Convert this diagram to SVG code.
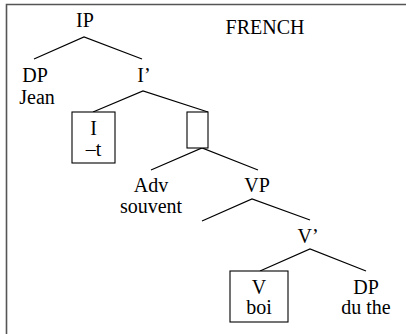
<svg xmlns="http://www.w3.org/2000/svg" width="406" height="334" viewBox="0 0 406 334">
<rect x="0" y="0" width="406" height="334" fill="#fff"/>
<path d="M6.5,340 V4.5 H412" fill="none" stroke="#555" stroke-width="1.6"/>
<g id="connectors" stroke="#000" stroke-width="1.2" fill="none">
<path d="M34,59 L84,37 L142,59"/>
<path d="M93,112 L143,91 L208,112"/>
<path d="M151,170 L202,148 L258,170"/>
<path d="M202,221 L252,199 L310,220"/>
<path d="M260,271 L310,249 L366,271"/>
</g>
<g font-family="'Liberation Serif', 'Times New Roman', serif" font-size="20" text-anchor="middle" fill="#000">
<text x="265" y="34">FRENCH</text>
<g id="IP"><text x="85" y="27">IP</text></g>
<g id="DP1"><text x="35" y="82">DP</text><text x="37" y="104">Jean</text></g>
<g id="Ibar"><text x="144" y="82">I&#8217;</text></g>
<g id="I"><rect x="72" y="112" width="43" height="51" fill="#fff" stroke="#000" stroke-width="1.1"/><text x="93.5" y="135">I</text><text x="93.5" y="156">&#8211;t</text></g>
<g id="empty"><rect x="187" y="112" width="21" height="36" fill="#fff" stroke="#000" stroke-width="1.1"/></g>
<g id="Adv"><text x="151" y="192">Adv</text><text x="151" y="213">souvent</text></g>
<g id="VP"><text x="257" y="192">VP</text></g>
<g id="Vbar"><text x="308" y="243">V&#8217;</text></g>
<g id="V"><rect x="230" y="271" width="58" height="51" fill="#fff" stroke="#000" stroke-width="1.1"/><text x="259" y="294">V</text><text x="259" y="314">boi</text></g>
<g id="DP2"><text x="366" y="294">DP</text><text x="366" y="314">du the</text></g>
</g>
</svg>
